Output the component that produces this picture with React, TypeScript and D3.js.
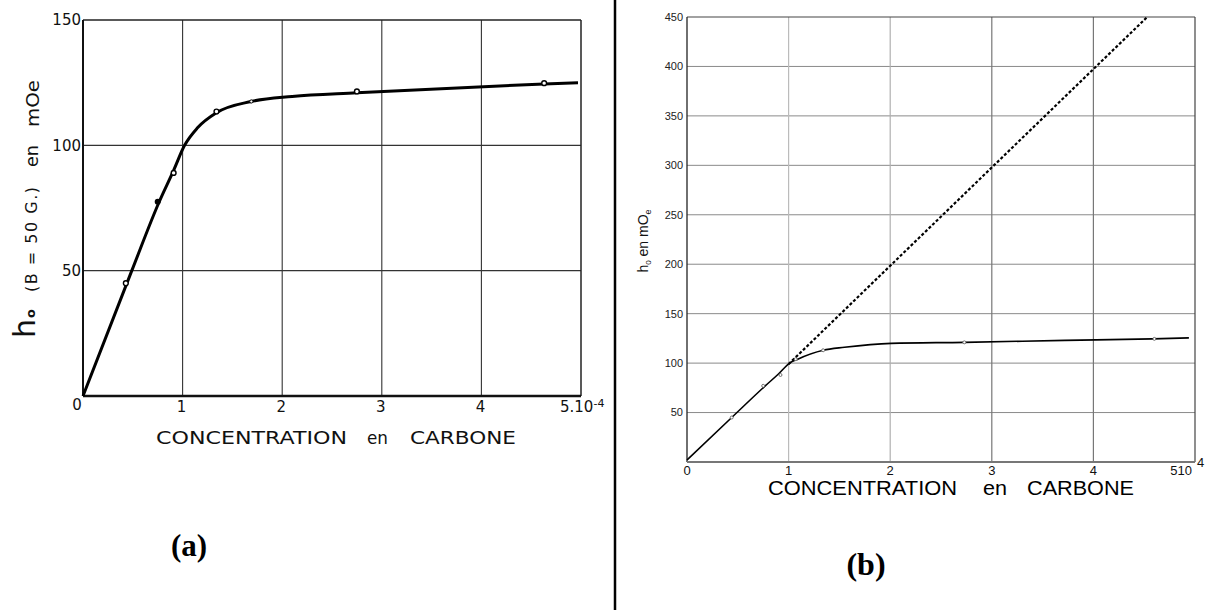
import React from "react";
import * as d3 from "d3";

// ---------- data ----------
const xTicks = [0, 1, 2, 3, 4];
const leftYTicks = [50, 100, 150];
const rightYTicks = [50, 100, 150, 200, 250, 300, 350, 400, 450];

const leftCurveX = [0, 0.49, 0.76, 0.91, 1.02, 1.15, 1.34, 1.69, 2.1, 2.75, 4.63, 4.97];
const leftCurveY = [0, 50, 77, 90, 100, 107, 113, 117.5, 119.5, 121, 124.5, 125];
const leftOpenX = [0.43, 0.91, 1.34, 2.75, 4.63];
const leftOpenY = [45, 89, 113.5, 121.5, 124.8];
const leftFilledX = [0.75];
const leftFilledY = [77.5];
const leftTinyX = [1.69];
const leftTinyY = [117.5];

const rightCurveX = [0, 0.44, 0.77, 0.9, 1.01, 1.09, 1.34, 1.55, 2.01, 2.73, 3.72, 4.58, 4.94];
const rightCurveY = [2, 45, 77, 89, 100, 104, 113, 116, 120, 121, 123, 124.5, 125.5];
const rightDashX = [1.0, 4.53];
const rightDashY = [99, 450];
const rightMarkX = [0.44, 0.75, 0.92, 1.07, 1.34, 2.73, 4.6];
const rightMarkY = [45, 77, 88, 104, 113, 121, 124.5];

const leftFont = "'DejaVu Sans', sans-serif";
const rightFont = "'Liberation Sans', Arial, sans-serif";

export default function App() {
  // left chart scales
  const lx = d3.scaleLinear().domain([0, 5]).range([83, 581]);
  const ly = d3.scaleLinear().domain([0, 150]).range([396, 20]);
  // right chart scales
  const rx = d3.scaleLinear().domain([0, 5]).range([687, 1195]);
  const ry = d3.scaleLinear().domain([0, 450]).range([462, 17]);

  const leftLine = d3
    .line<number>()
    .x((_, i) => lx(leftCurveX[i]))
    .y((d) => ly(d))
    .curve(d3.curveMonotoneX);
  const rightLine = d3
    .line<number>()
    .x((_, i) => rx(rightCurveX[i]))
    .y((d) => ry(d))
    .curve(d3.curveMonotoneX);
  const dashLine = d3
    .line<number>()
    .x((_, i) => rx(rightDashX[i]))
    .y((d) => ry(d));

  const rightVGridColor = ["#bbb", "#b0b0b0", "#777", "#777"];

  return (
    <svg
      width={1208}
      height={610}
      style={{ position: "absolute", left: 0, top: 0, background: "#fff" }}
    >
      <rect x={0} y={0} width={1208} height={610} fill="#fff" />

      {/* ================= LEFT CHART (a) ================= */}
      <g>
        {/* grid */}
        {[1, 2, 3, 4].map((t) => (
          <line key={"lv" + t} x1={lx(t)} x2={lx(t)} y1={ly(150)} y2={ly(0)} stroke="#333" strokeWidth={1.1} />
        ))}
        {[50, 100].map((t) => (
          <line key={"lh" + t} x1={lx(0)} x2={lx(5)} y1={ly(t)} y2={ly(t)} stroke="#333" strokeWidth={1.1} />
        ))}
        {/* frame */}
        <line x1={lx(0)} x2={lx(5)} y1={ly(150)} y2={ly(150)} stroke="#222" strokeWidth={1.5} />
        <line x1={lx(5)} x2={lx(5)} y1={ly(150)} y2={ly(0)} stroke="#222" strokeWidth={1.5} />
        <line x1={lx(0)} x2={lx(0)} y1={ly(150)} y2={ly(0)} stroke="#111" strokeWidth={2} />
        <line x1={lx(0)} x2={lx(5)} y1={ly(0)} y2={ly(0)} stroke="#111" strokeWidth={2.5} />

        {/* curve */}
        <path d={leftLine(leftCurveY) || ""} fill="none" stroke="#000" strokeWidth={3} strokeLinejoin="round" />
        {leftOpenY.map((v, i) => (
          <circle key={"lo" + i} cx={lx(leftOpenX[i])} cy={ly(v)} r={2.4} fill="#fff" stroke="#000" strokeWidth={1.4} />
        ))}
        {leftFilledY.map((v, i) => (
          <circle key={"lf" + i} cx={lx(leftFilledX[i])} cy={ly(v)} r={3} fill="#000" />
        ))}
        {leftTinyY.map((v, i) => (
          <circle key={"lt" + i} cx={lx(leftTinyX[i])} cy={ly(v)} r={1.6} fill="#fff" stroke="#000" strokeWidth={1} />
        ))}

        {/* y tick labels */}
        {leftYTicks.map((t) => (
          <text key={"lyt" + t} x={lx(0) - 2} y={ly(t)} dy="0.36em" textAnchor="end" fontFamily={leftFont} fontSize={15} fill="#111">
            {t}
          </text>
        ))}
        {/* x tick labels */}
        <text x={lx(0) - 6} y={ly(0) + 9} dy="0.36em" textAnchor="middle" fontFamily={leftFont} fontSize={15} fill="#111">
          0
        </text>
        {xTicks.slice(1).map((t) => (
          <text key={"lxt" + t} x={lx(t) - 1} y={ly(0) + 11} dy="0.36em" textAnchor="middle" fontFamily={leftFont} fontSize={15} fill="#111">
            {t}
          </text>
        ))}
        <text x={560} y={ly(0) + 11} dy="0.36em" textAnchor="start" fontFamily={leftFont} fontSize={15} fill="#111">
          5.10
          <tspan dy={-5} fontSize={11}>-4</tspan>
        </text>

        {/* x axis title */}
        <g fontFamily={leftFont} fontSize={18} fill="#111">
          <text x={156} y={444} textLength={191} lengthAdjust="spacingAndGlyphs">CONCENTRATION</text>
          <text x={367} y={444} textLength={21} lengthAdjust="spacingAndGlyphs">en</text>
          <text x={410} y={444} textLength={106} lengthAdjust="spacingAndGlyphs">CARBONE</text>
        </g>

        {/* y axis title (rotated) */}
        <g transform="rotate(-90)" fontFamily={leftFont} fill="#111">
          <text x={-338} y={35} fontSize={30} textLength={19} lengthAdjust="spacingAndGlyphs">h</text>
          <text x={-318} y={35} fontSize={13} fontWeight="bold">o</text>
          <text x={-292} y={37} fontSize={16} textLength={105} lengthAdjust="spacing">(B = 50 G.)</text>
          <text x={-167} y={38} fontSize={17} textLength={22} lengthAdjust="spacingAndGlyphs">en</text>
          <text x={-127} y={39} fontSize={17} textLength={47} lengthAdjust="spacingAndGlyphs">mOe</text>
        </g>

        {/* panel label */}
        <text x={189} y={556} textAnchor="middle" fontFamily="'Liberation Serif', 'Times New Roman', serif" fontWeight="bold" fontSize={31} fill="#000">
          (a)
        </text>
      </g>

      {/* ================= divider ================= */}
      <line x1={615} x2={615} y1={0} y2={610} stroke="#000" strokeWidth={2.5} />

      {/* ================= RIGHT CHART (b) ================= */}
      <g>
        {/* grid */}
        {rightYTicks.slice(0, -1).map((t) => (
          <line key={"rh" + t} x1={rx(0)} x2={rx(5)} y1={ry(t)} y2={ry(t)} stroke="#8a8a8a" strokeWidth={1} />
        ))}
        {[1, 2, 3, 4].map((t, i) => (
          <line key={"rv" + t} x1={rx(t)} x2={rx(t)} y1={ry(450)} y2={ry(0)} stroke={rightVGridColor[i]} strokeWidth={1.2} />
        ))}
        {/* frame */}
        <line x1={rx(0)} x2={rx(5)} y1={ry(450)} y2={ry(450)} stroke="#444" strokeWidth={1.2} />
        <line x1={rx(5)} x2={rx(5)} y1={ry(450)} y2={ry(0)} stroke="#444" strokeWidth={1.2} />
        <line x1={rx(0)} x2={rx(0)} y1={ry(450)} y2={ry(0)} stroke="#222" strokeWidth={1.3} />
        <line x1={rx(0)} x2={rx(5)} y1={ry(0)} y2={ry(0)} stroke="#777" strokeWidth={2} />

        {/* dashed extrapolation */}
        <path d={dashLine(rightDashY) || ""} fill="none" stroke="#000" strokeWidth={2.2} strokeDasharray="3 2" />
        {/* solid curve */}
        <path d={rightLine(rightCurveY) || ""} fill="none" stroke="#000" strokeWidth={1.6} strokeLinejoin="round" />
        {rightMarkY.map((v, i) => (
          <circle key={"rm" + i} cx={rx(rightMarkX[i])} cy={ry(v)} r={1.5} fill="#fff" stroke="#555" strokeWidth={0.8} />
        ))}

        {/* y tick labels */}
        {rightYTicks.map((t) => (
          <text key={"ryt" + t} x={683} y={ry(t)} dy="0.35em" textAnchor="end" fontFamily={rightFont} fontSize={11} fill="#222">
            {t}
          </text>
        ))}
        {/* x tick labels */}
        {xTicks.map((t) => (
          <text key={"rxt" + t} x={rx(t)} y={475} textAnchor="middle" fontFamily={rightFont} fontSize={13} fill="#111">
            {t}
          </text>
        ))}
        <text x={1192} y={475} textAnchor="end" fontFamily={rightFont} fontSize={13} fill="#111">
          510
        </text>
        <text x={1197} y={467} textAnchor="start" fontFamily={rightFont} fontSize={13} fill="#111">
          4
        </text>

        {/* x axis title */}
        <g fontFamily={rightFont} fontSize={20} fill="#000">
          <text x={768} y={495} textLength={189} lengthAdjust="spacingAndGlyphs">CONCENTRATION</text>
          <text x={983} y={495} textLength={24} lengthAdjust="spacingAndGlyphs">en</text>
          <text x={1027} y={495} textLength={107} lengthAdjust="spacingAndGlyphs">CARBONE</text>
        </g>

        {/* y axis title */}
        <text transform="translate(648,241) rotate(-90)" textAnchor="middle" fontFamily={rightFont} fontSize={14} fill="#111">
          h<tspan dy={3} fontSize={8}>0</tspan>
          <tspan dy={-3}> en mO</tspan>
          <tspan dy={3} fontSize={9}>e</tspan>
        </text>

        {/* panel label */}
        <text x={866} y={575} textAnchor="middle" fontFamily="'Liberation Serif', 'Times New Roman', serif" fontWeight="bold" fontSize={32} fill="#000">
          (b)
        </text>
      </g>
    </svg>
  );
}
